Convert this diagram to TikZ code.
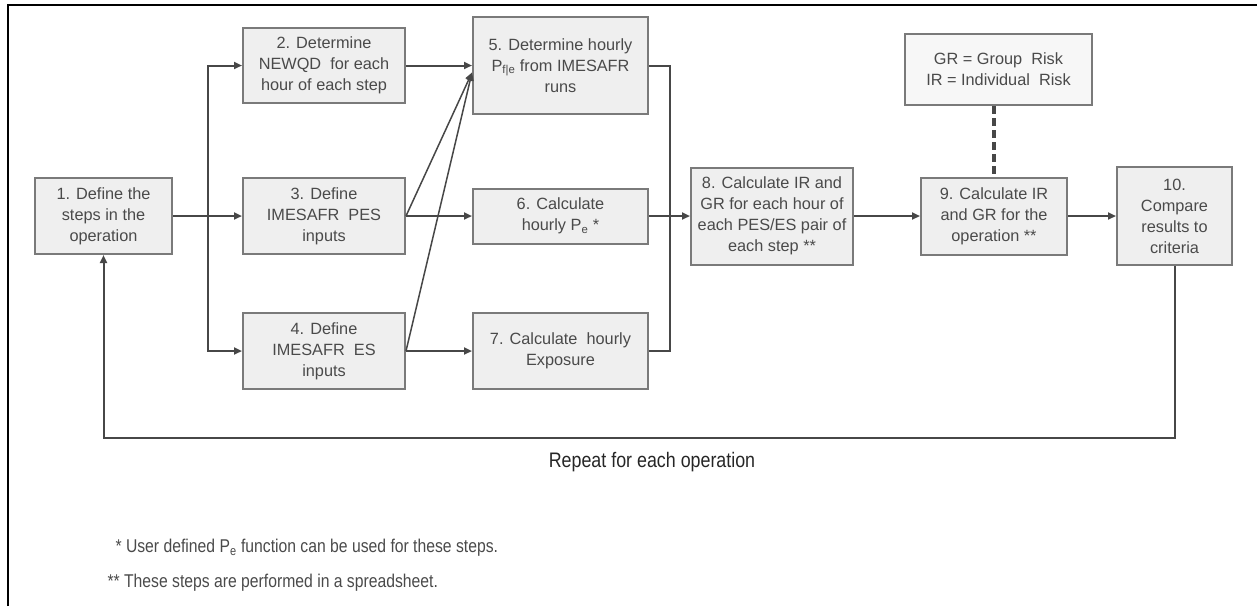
\documentclass[tikz,border=0pt]{standalone}
\usepackage{fontspec}
\setmainfont{Liberation Sans}
\newfontfamily\narrowfont[FakeStretch=0.85]{Liberation Sans}
\usepackage{tikz}
\usetikzlibrary{arrows.meta}
\definecolor{box_fill}{HTML}{EFEFEF}
\definecolor{box_edge}{HTML}{7A7A7A}
\definecolor{line_gray}{HTML}{474747}
\definecolor{text_gray}{HTML}{4A4A4A}

\begin{document}
\begin{tikzpicture}[x=1pt, y=-1pt,
    every node/.style={font=\fontsize{16.3}{21}\selectfont, text=text_gray},
    stepbox/.style={draw=box_edge, line width=2pt, fill=box_fill, align=center, inner sep=0pt},
    link/.style={draw=line_gray, line width=2pt, >={Triangle[length=8pt, width=7pt]}},
    note/.style={font=\narrowfont\fontsize{18.5}{20}\selectfont, anchor=west, text=text_gray}]

    \useasboundingbox (0,0) rectangle (1257,606);

    % Frame round the figure (cut at right and bottom)
    \draw[line width=2.5pt] (8,606) -- (8,5) -- (1257,5);

    % The steps
    \node[stepbox, minimum width=137pt, minimum height=76pt] (s1) at (103.5,216) {1. Define the\\ steps in the\\ operation};
    \node[stepbox, minimum width=162pt, minimum height=75pt] (s2) at (324,65.5) {2. Determine\\ NEWQD\ \ for each\\ hour of each step};
    \node[stepbox, minimum width=162pt, minimum height=76pt] (s3) at (324,216) {3. Define\\ IMESAFR\ \ PES\\ inputs};
    \node[stepbox, minimum width=162pt, minimum height=76pt] (s4) at (324,351) {4. Define\\ IMESAFR\ \ ES\\ inputs};
    \node[stepbox, minimum width=175pt, minimum height=97pt] (s5) at (560.5,65.5) {5. Determine hourly\\ P\textsubscript{f|e} from IMESAFR\\ runs};
    \node[stepbox, minimum width=175pt, minimum height=55pt] (s6) at (560.5,216) {6. Calculate\\ hourly P\textsubscript{e} *};
    \node[stepbox, minimum width=175pt, minimum height=76pt] (s7) at (560.5,351) {7. Calculate\ \ hourly\\ Exposure};
    \node[stepbox, minimum width=162pt, minimum height=97pt] (s8) at (772,216) {8. Calculate IR and\\ GR for each hour of\\ each PES/ES pair of\\ each step **};
    \node[stepbox, minimum width=146pt, minimum height=77pt] (s9) at (994,216) {9. Calculate IR\\ and GR for the\\ operation **};
    \node[stepbox, minimum width=115pt, minimum height=98pt] (s10) at (1174.5,216) {10.\\ Compare\\ results to\\ criteria};

    % Key to the abbreviations
    \node[stepbox, fill=white!97!black, minimum width=187pt, minimum height=71pt] (key) at (998.5,69.5) {GR = Group\ \ Risk\\ IR = Individual\ \ Risk};

    % Split after step 1
    \coordinate (split) at (208,216);
    \draw[link, ->] (s1) -- (s3);
    \draw[link, ->] (split) |- (s2);
    \draw[link, ->] (split) |- (s4);

    % Inputs into step 5
    \coordinate (s5in) at ([yshift=-7pt]s5.west);
    \draw[link, ->] (s2) -- (s5);
    \draw[link, ->, line width=1.5pt] (s3.east) -- (s5in);
    \draw[link, ->, line width=1.5pt] (s4.east) -- (s5in);
    \draw[link, ->] (s3) -- (s6);
    \draw[link, ->] (s4) -- (s7);

    % Collect steps 5, 6 and 7 into step 8
    \coordinate (bus) at (670,216);
    \draw[link] (s5.east) -| (bus);
    \draw[link] (s7.east) -| (bus);
    \draw[link, ->] (s6) -- (s8);
    \draw[link, ->] (s8) -- (s9);
    \draw[link, ->] (s9) -- (s10);

    % Key attached to step 9
    \draw[line_gray, line width=4pt, dash pattern=on 8pt off 4pt] (key.south -| s9.north) -- (s9.north);

    % Loop back to step 1
    \draw[link, ->] (s10.south) -- ++(0,172) -| (s1.south);
    \node[font=\narrowfont\fontsize{21}{24}\selectfont, text=black!85] (repeat) at (652,462) {Repeat for each operation};

    % Footnotes
    \node[note] (note1) at (112,548) {* User defined P\textsubscript{e} function can be used for these steps.};
    \node[note] (note2) at (104,583) {** These steps are performed in a spreadsheet.};

\end{tikzpicture}
\end{document}
